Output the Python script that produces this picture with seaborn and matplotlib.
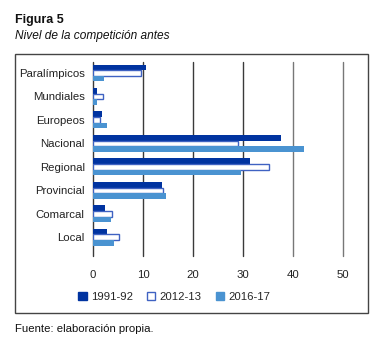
import matplotlib
matplotlib.use("Agg")
import matplotlib.pyplot as plt
import seaborn as sns
import pandas as pd
from matplotlib.patches import Patch, Rectangle

categories = ["Paralímpicos", "Mundiales", "Europeos", "Nacional", "Regional",
              "Provincial", "Comarcal", "Local"]
series = ["1991-92", "2012-13", "2016-17"]
v1991 = [10.6, 0.8, 1.8, 37.6, 31.4, 13.8, 2.4, 2.8]
v2012 = [9.5, 1.9, 1.4, 28.9, 35.2, 13.9, 3.7, 5.2]
v2016 = [2.2, 0.8, 2.8, 42.2, 29.5, 14.5, 3.6, 4.2]
xticks = [0, 10, 20, 30, 40, 50]

rows = []
for name, vals in zip(series, [v1991, v2012, v2016]):
    for c, v in zip(categories, vals):
        rows.append({"cat": c, "serie": name, "valor": v})
df = pd.DataFrame(rows)

sns.set_style("white")
plt.rcParams["font.family"] = ["Liberation Sans", "DejaVu Sans"]

dark = "#0033a0"
light = "#4a93d1"
edge = "#3f62c2"

W, H = 383, 360
fig = plt.figure(figsize=(W / 100, H / 100), dpi=100)
ax = fig.add_axes([93 / W, 1 - 256 / H, 250 / W, 194 / H])

sns.barplot(data=df, y="cat", x="valor", hue="serie", order=categories,
            hue_order=series, palette=[dark, "white", light], orient="h",
            width=0.72, ax=ax, legend=False, saturation=1)

for p in ax.containers[1]:
    p.set_facecolor("white")
    p.set_edgecolor(edge)
    p.set_linewidth(1.0)
for c in (ax.containers[0], ax.containers[2]):
    for p in c:
        p.set_linewidth(0)

ax.set_xlim(0, 50)
ax.set_ylim(7.8, -0.47)
ax.set_xticks(xticks)
ax.set_xticklabels([str(t) for t in xticks])
for t in xticks:
    ax.axvline(t, color="#3a3a3a" if t < 40 else "#777777", lw=1.0, zorder=0,
               clip_on=False)
for s in ax.spines.values():
    s.set_visible(False)
ax.tick_params(axis="x", length=0, pad=10, labelsize=8.2, colors="#222222")
ax.tick_params(axis="y", length=0, pad=6, labelsize=8.2, colors="#222222")
ax.set_xlabel("")
ax.set_ylabel("")

handles = [Patch(facecolor=dark, edgecolor=dark),
           Patch(facecolor="white", edgecolor=edge, linewidth=1.0),
           Patch(facecolor=light, edgecolor=light)]
fig.legend(handles, series, loc="center left", bbox_to_anchor=(78 / W, 1 - 297 / H),
           ncol=3, frameon=False, fontsize=8.2, handlelength=0.75, handleheight=0.75,
           handletextpad=0.4, columnspacing=1.2, borderpad=0, borderaxespad=0)

fig.patches.append(Rectangle((15 / W, 1 - 313 / H), 353 / W, 259 / H,
                             transform=fig.transFigure, fill=False,
                             edgecolor="#444444", lw=1.0))

fig.text(15 / W, 1 - 20 / H, "Figura 5", fontsize=9, fontweight="bold",
         va="center", ha="left", color="#111111")
fig.text(15 / W, 1 - 36 / H, "Nivel de la competición antes", fontsize=8.6,
         style="italic", va="center", ha="left", color="#111111")
fig.text(15 / W, 1 - 329 / H, "Fuente: elaboración propia.", fontsize=8.2,
         va="center", ha="left", color="#111111")

fig.savefig("out.png", dpi=100)
